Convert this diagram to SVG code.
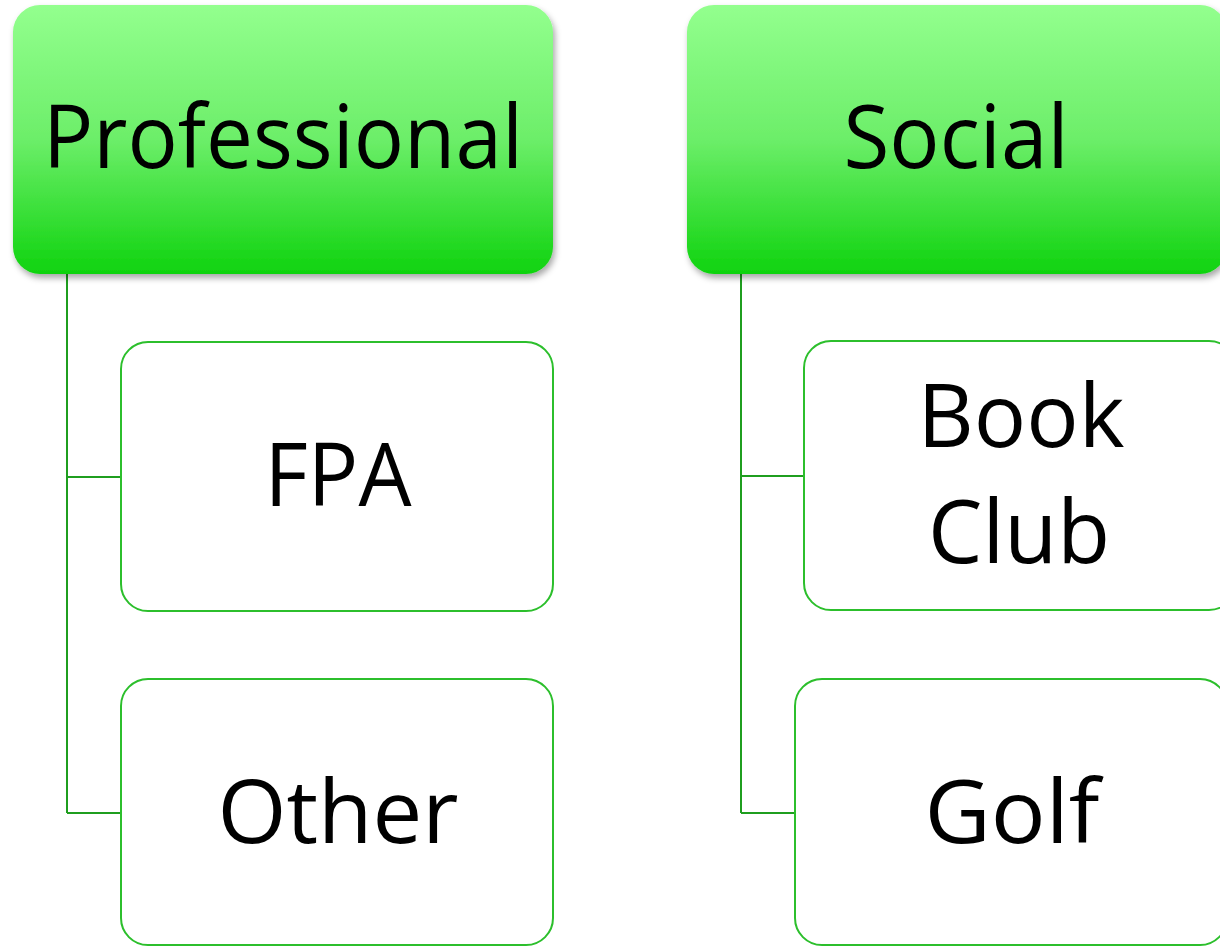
<svg xmlns="http://www.w3.org/2000/svg" width="1220" height="947" viewBox="0 0 1220 947">
  <style>
    .head { fill: url(#headFill); filter: url(#shadow); }
    .child { fill: #ffffff; stroke: #2cbf2c; stroke-width: 2; }
    .label { font-family: "Open Sans", "Liberation Sans", sans-serif; font-size: 88px; fill: #000000; text-anchor: middle; }
    #connectors path { fill: none; stroke: #1f9e1f; stroke-width: 2; }
  </style>
  <defs>
    <linearGradient id="headFill" x1="0" y1="0" x2="0" y2="1">
      <stop offset="0" stop-color="#93ff8e"/>
      <stop offset="0.5" stop-color="#6cee69"/>
      <stop offset="1" stop-color="#0fd30f"/>
    </linearGradient>
    <filter id="shadow" x="-10%" y="-10%" width="120%" height="130%">
      <feDropShadow dx="2" dy="4" stdDeviation="3" flood-color="#000000" flood-opacity="0.35"/>
    </filter>
  </defs>
  <rect width="1220" height="947" fill="#ffffff"/>

  <g id="connectors">
    <path d="M67 274 V813 M67 477 H121 M67 813 H121"/>
    <path d="M741 274 V813 M741 476 H804 M741 813 H795"/>
  </g>

  <g id="professional">
    <rect class="head" x="13" y="5" width="540" height="269" rx="27"/>
    <text class="label" x="283" y="168" textLength="480" lengthAdjust="spacingAndGlyphs">Professional</text>
  </g>
  <g id="social">
    <rect class="head" x="687" y="5" width="540" height="269" rx="27"/>
    <text class="label" x="956" y="168" textLength="225" lengthAdjust="spacingAndGlyphs">Social</text>
  </g>

  <g id="fpa">
    <rect class="child" x="121" y="342" width="432" height="269" rx="27"/>
    <text class="label" x="338" y="506" textLength="147" lengthAdjust="spacingAndGlyphs">FPA</text>
  </g>
  <g id="other">
    <rect class="child" x="121" y="679" width="432" height="266" rx="27"/>
    <text class="label" x="338" y="843" textLength="241" lengthAdjust="spacingAndGlyphs">Other</text>
  </g>
  <g id="book-club">
    <rect class="child" x="804" y="341" width="432" height="269" rx="27"/>
    <text class="label" x="1021" y="447" textLength="207" lengthAdjust="spacingAndGlyphs">Book</text>
    <text class="label" x="1019" y="563" textLength="182" lengthAdjust="spacingAndGlyphs">Club</text>
  </g>
  <g id="golf">
    <rect class="child" x="795" y="679" width="432" height="266" rx="27"/>
    <text class="label" x="1012" y="843" textLength="175" lengthAdjust="spacingAndGlyphs">Golf</text>
  </g>
</svg>
